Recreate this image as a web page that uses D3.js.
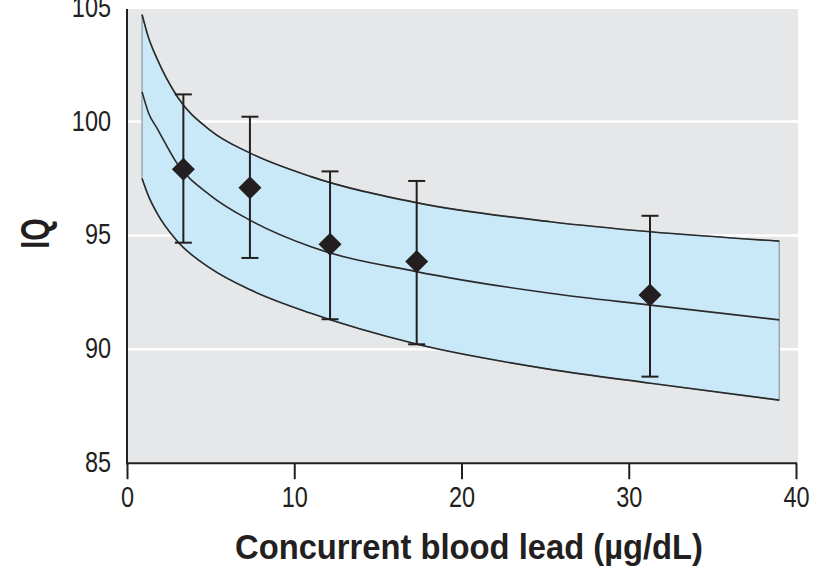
<!DOCTYPE html>
<html>
<head>
<meta charset="utf-8">
<script src="https://cdn.jsdelivr.net/npm/d3@7"></script>
<style>
  body { margin: 0; background: #fff; }
  svg { display: block; }
  .tick text { font-family: "Liberation Sans", Arial, sans-serif; font-size: 29px; fill: #231f20; }
  .title { font-family: "Liberation Sans", Arial, sans-serif; font-weight: bold; fill: #231f20; }
</style>
</head>
<body>
<div id="canvas"></div>
<script>
// blood lead (x) sampled along the fitted curve and its 95% band
var leadX    = [0.9, 1.3, 1.8, 3, 5, 7.4, 11, 17.3, 25.3, 31.3, 39];
var iqFit    = [101.3, 100.35, 99.7, 98.15, 96.75, 95.65, 94.5, 93.41, 92.46, 91.94, 91.29];
var iqUpper  = [104.7, 103.65, 102.75, 101.1, 99.6, 98.6, 97.58, 96.44, 95.6, 95.16, 94.75];
var iqLower  = [97.5, 96.7, 95.97, 94.75, 93.55, 92.6, 91.58, 90.23, 89.12, 88.51, 87.77];

// group means with error bars
var groupLead = [3.37, 7.35, 12.14, 17.32, 31.27];
var groupIQ   = [97.9, 97.09, 94.61, 93.85, 92.38];
var groupHigh = [101.19, 100.21, 97.81, 97.39, 95.86];
var groupLow  = [94.68, 94.01, 91.32, 90.22, 88.8];

var xTicks = [0, 10, 20, 30, 40];
var yTicks = [85, 90, 95, 100, 105];
var gridIQ = [90, 95, 100];

var W = 823, H = 569;

var svg = d3.select('#canvas')
  .append('svg')
  .attr('width', W)
  .attr('height', H);

var x = d3.scaleLinear().domain([0, 40]).range([127, 796]);
var y = d3.scaleLinear().domain([85, 105]).range([463.2, 7.6]);

var plotTop = 9;

// background
svg.append('rect')
  .attr('x', x(0))
  .attr('y', plotTop)
  .attr('width', x(40) - x(0) + 2)
  .attr('height', y(85) - plotTop)
  .attr('fill', '#e6e7e8');

// grid
svg.selectAll('.grid')
  .data(gridIQ)
  .enter()
  .append('line')
  .attr('class', 'grid')
  .attr('x1', x(0))
  .attr('x2', x(40) + 2)
  .attr('y1', function(d){ return y(d); })
  .attr('y2', function(d){ return y(d); })
  .attr('stroke', '#fff')
  .attr('stroke-width', 2.5);

var curve = leadX.map(function(v, i){
  return {x: v, fit: iqFit[i], hi: iqUpper[i], lo: iqLower[i]};
});

var area = d3.area()
  .x(function(d){ return x(d.x); })
  .y0(function(d){ return y(d.lo); })
  .y1(function(d){ return y(d.hi); })
  .curve(d3.curveMonotoneX);

svg.append('path')
  .datum(curve)
  .attr('d', area)
  .attr('fill', '#c9e9f9')
  .attr('stroke', '#8a9aa2')
  .attr('stroke-width', 1.2);

function lineOf(key){
  return d3.line()
    .x(function(d){ return x(d.x); })
    .y(function(d){ return y(d[key]); })
    .curve(d3.curveMonotoneX);
}

['hi', 'fit', 'lo'].forEach(function(k){
  svg.append('path')
    .datum(curve)
    .attr('d', lineOf(k))
    .attr('fill', 'none')
    .attr('stroke', '#2a2a2a')
    .attr('stroke-width', 1.6);
});

// error bars
var groups = groupLead.map(function(v, i){
  return {x: v, iq: groupIQ[i], hi: groupHigh[i], lo: groupLow[i]};
});

var bars = svg.selectAll('.bar')
  .data(groups)
  .enter()
  .append('g')
  .attr('class', 'bar')
  .attr('stroke', '#231f20')
  .attr('stroke-width', 2);

bars.append('line')
  .attr('x1', function(d){ return x(d.x); })
  .attr('x2', function(d){ return x(d.x); })
  .attr('y1', function(d){ return y(d.hi); })
  .attr('y2', function(d){ return y(d.lo); });

bars.append('line')
  .attr('x1', function(d){ return x(d.x) - 8.5; })
  .attr('x2', function(d){ return x(d.x) + 8.5; })
  .attr('y1', function(d){ return y(d.hi); })
  .attr('y2', function(d){ return y(d.hi); });

bars.append('line')
  .attr('x1', function(d){ return x(d.x) - 8.5; })
  .attr('x2', function(d){ return x(d.x) + 8.5; })
  .attr('y1', function(d){ return y(d.lo); })
  .attr('y2', function(d){ return y(d.lo); });

svg.selectAll('.pt')
  .data(groups)
  .enter()
  .append('path')
  .attr('class', 'pt')
  .attr('d', d3.symbol().type(d3.symbolSquare).size(265))
  .attr('transform', function(d){ return 'translate(' + x(d.x) + ',' + y(d.iq) + ') rotate(45)'; })
  .attr('fill', '#231f20');

// axes
var xAxis = svg.append('g')
  .attr('transform', 'translate(0,' + y(85) + ')')
  .call(d3.axisBottom(x).tickValues(xTicks).tickSize(16).tickFormat(d3.format('d')));
xAxis.select('.domain').remove();
xAxis.selectAll('.tick line').attr('stroke', '#231f20').attr('stroke-width', 2);
xAxis.selectAll('.tick text')
  .attr('y', 0).attr('dy', 0)
  .attr('transform', 'translate(0,44) scale(0.81,1)');

var yAxis = svg.append('g')
  .attr('transform', 'translate(' + x(0) + ',0)')
  .call(d3.axisLeft(y).tickValues(yTicks).tickSize(0).tickFormat(d3.format('d')));
yAxis.select('.domain').remove();
yAxis.selectAll('.tick text')
  .attr('x', 0).attr('dy', 0)
  .attr('transform', 'translate(-16,8.5) scale(0.81,1)');

svg.append('line')
  .attr('x1', x(0)).attr('x2', x(0))
  .attr('y1', plotTop).attr('y2', y(85) + 1)
  .attr('stroke', '#231f20').attr('stroke-width', 2);

svg.append('line')
  .attr('x1', x(0) - 1).attr('x2', x(40) + 1)
  .attr('y1', y(85)).attr('y2', y(85))
  .attr('stroke', '#231f20').attr('stroke-width', 2);

// titles
svg.append('text')
  .attr('class', 'title')
  .attr('x', 469)
  .attr('y', 559)
  .attr('text-anchor', 'middle')
  .attr('textLength', 468)
  .attr('lengthAdjust', 'spacingAndGlyphs')
  .style('font-size', '35px')
  .text('Concurrent blood lead (\u00b5g/dL)');

svg.append('text')
  .attr('class', 'title')
  .attr('transform', 'translate(48.5,233.5) rotate(-90) scale(0.72,1)')
  .attr('text-anchor', 'middle')
  .style('font-size', '40px')
  .text('IQ');
</script>
</body>
</html>
